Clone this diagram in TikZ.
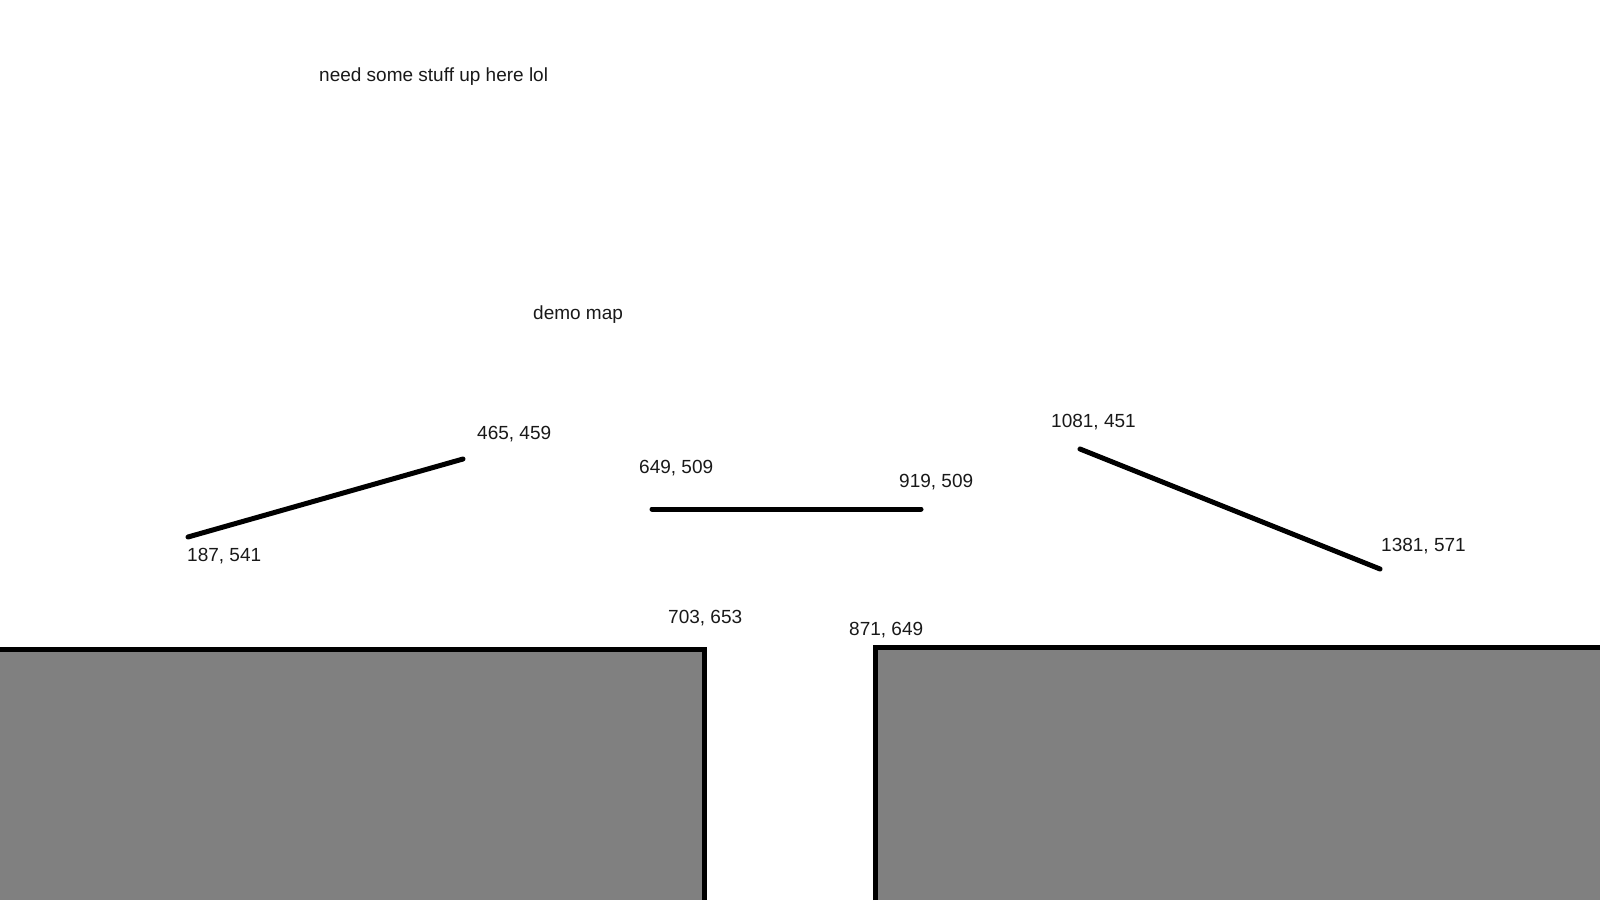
\documentclass[tikz,border=0pt]{standalone}
\usepackage{fontspec}
\setmainfont{Liberation Sans}
\begin{document}
\begin{tikzpicture}[x=1pt,y=-1pt,
  wall/.style={line width=5pt,line cap=round,black},
  lbl/.style={anchor=west,inner sep=0pt,font=\fontsize{19}{21}\selectfont,text=black!90},
  ground/.style={fill=black!50,draw=none}]
\useasboundingbox (0,0) rectangle (1600,900);
% ground blocks
\fill[ground] (0,649) rectangle (704,900);
\fill[ground] (875,647) rectangle (1600,900);
\coordinate (gl1) at (0,649);
\coordinate (gl2) at (704,649);
\coordinate (gl3) at (704,900);
\coordinate (gr1) at (875,900);
\coordinate (gr2) at (875,647);
\coordinate (gr3) at (1600,647);
\draw[wall,line cap=butt] (gl1) -- (gl2) -- (gl3);
\draw[wall,line cap=butt] (gr1) -- (gr2) -- (gr3);
% platforms
\coordinate (a1) at (188,537);
\coordinate (a2) at (463,459);
\coordinate (b1) at (652,509);
\coordinate (b2) at (921,509);
\coordinate (c1) at (1080,449);
\coordinate (c2) at (1380,569);
\draw[wall] (a1) -- (a2);
\draw[wall] (b1) -- (b2);
\draw[wall] (c1) -- (c2);
% texts
\node[lbl] (t1) at (319,77) {need some stuff up here lol};
\node[lbl] (t2) at (533,315) {demo map};
\node[lbl] (l1) at (477,434) {465, 459};
\node[lbl] (l2) at (187,556) {187, 541};
\node[lbl] (l3) at (639,468) {649, 509};
\node[lbl] (l4) at (899,482) {919, 509};
\node[lbl] (l5) at (1051,422) {1081, 451};
\node[lbl] (l6) at (1381,546) {1381, 571};
\node[lbl] (l7) at (668,618) {703, 653};
\node[lbl] (l8) at (849,630) {871, 649};
\end{tikzpicture}
\end{document}
